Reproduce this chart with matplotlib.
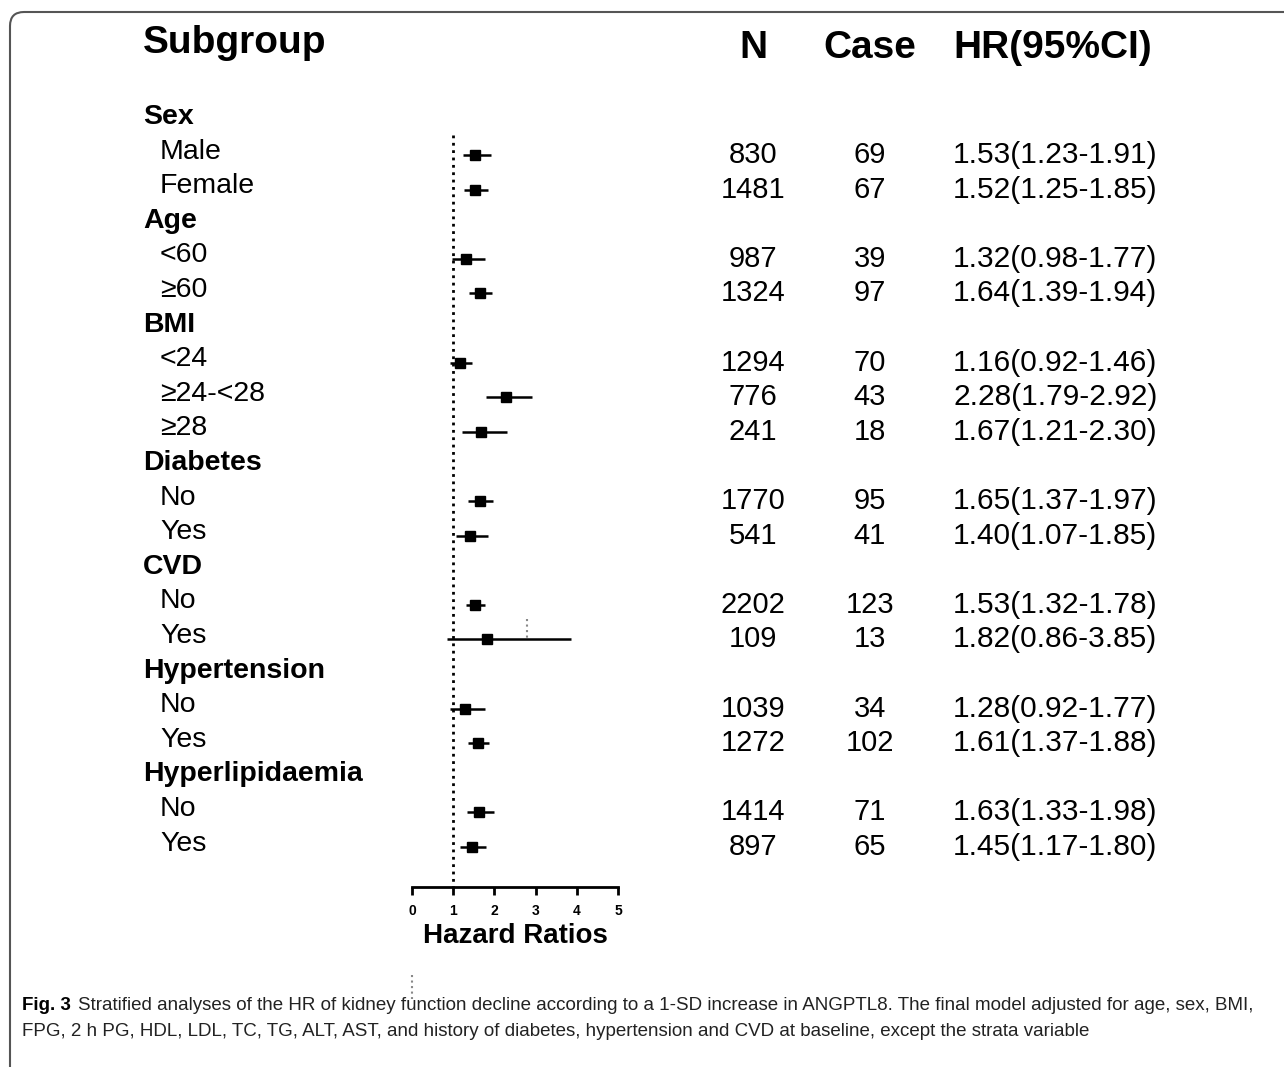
import matplotlib.pyplot as plt
from matplotlib import transforms
from matplotlib.patches import FancyBboxPatch

plt.rcParams['font.family'] = ['Liberation Sans', 'DejaVu Sans']

# data
groups = ['Sex', 'Age', 'BMI', 'Diabetes', 'CVD', 'Hypertension', 'Hyperlipidaemia']
levels = [['Male', 'Female'], ['<60', '≥60'], ['<24', '≥24-<28', '≥28'],
          ['No', 'Yes'], ['No', 'Yes'], ['No', 'Yes'], ['No', 'Yes']]
n_total = [830, 1481, 987, 1324, 1294, 776, 241, 1770, 541, 2202, 109, 1039, 1272, 1414, 897]
n_case = [69, 67, 39, 97, 70, 43, 18, 95, 41, 123, 13, 34, 102, 71, 65]
hr = [1.53, 1.52, 1.32, 1.64, 1.16, 2.28, 1.67, 1.65, 1.40, 1.53, 1.82, 1.28, 1.61, 1.63, 1.45]
ci_lo = [1.23, 1.25, 0.98, 1.39, 0.92, 1.79, 1.21, 1.37, 1.07, 1.32, 0.86, 0.92, 1.37, 1.33, 1.17]
ci_hi = [1.91, 1.85, 1.77, 1.94, 1.46, 2.92, 2.30, 1.97, 1.85, 1.78, 3.85, 1.77, 1.88, 1.98, 1.80]
xticks = [0, 1, 2, 3, 4, 5]

W, H = 1284, 1067
fig = plt.figure(figsize=(W / 100, H / 100), dpi=100)

# rounded frame, right and bottom edges run off the page
frame = FancyBboxPatch((10, -60), W + 100, H - 12 + 60,
                       boxstyle='round,pad=0,rounding_size=14',
                       transform=transforms.IdentityTransform(),
                       fc='none', ec='#555555', lw=1.5)
fig.add_artist(frame)

ax = fig.add_axes([412 / W, 1 - 887 / H, 206 / W, 787 / H])
row_px = 34.6
top_row = (100 - 117) / row_px
bot_row = (887 - 117) / row_px
ax.set_xlim(0, 5)
ax.set_ylim(bot_row, top_row)

tr = transforms.blended_transform_factory(fig.transFigure, ax.transData)

# header
ax.text(143 / W, -2.14, 'Subgroup', transform=tr, fontsize=28, fontweight='bold', va='center')
ax.text(753 / W, -2.0, 'N', transform=tr, fontsize=28, fontweight='bold', va='center', ha='center')
ax.text(870 / W, -2.0, 'Case', transform=tr, fontsize=28, fontweight='bold', va='center', ha='center')
ax.text(953 / W, -2.0, 'HR(95%CI)', transform=tr, fontsize=28, fontweight='bold', va='center')

rows = []
r = 0
for g, lv in zip(groups, levels):
    ax.text(143 / W, r, g, transform=tr, fontsize=20.5, fontweight='bold', va='center')
    r += 1
    for name in lv:
        ax.text(160 / W, r, name, transform=tr, fontsize=20.5, va='center')
        rows.append(r + 0.1)
        r += 1

for y, n, c, h, lo, hi in zip(rows, n_total, n_case, hr, ci_lo, ci_hi):
    ax.text(753 / W, y, str(n), transform=tr, fontsize=21, va='center', ha='center')
    ax.text(870 / W, y, str(c), transform=tr, fontsize=21, va='center', ha='center')
    ax.text(953 / W, y, '%.2f(%.2f-%.2f)' % (h, lo, hi), transform=tr, fontsize=21.5, va='center')

ax.hlines(rows, ci_lo, ci_hi, color='black', lw=1.8)
ax.plot(hr, rows, 's', color='black', ms=7)

# reference line at HR = 1
ax.plot([1, 1], [0.52, bot_row + 0.1], color='black', ls=':', lw=2, clip_on=False)
# small scan artefacts in the original
ax.plot([2.79, 2.79], [14.5, 15.1], color='#888888', ls=':', lw=1.5, clip_on=False)
ax.plot([0, 0], [24.8, 25.5], color='#888888', ls=':', lw=1.5, clip_on=False)

for s in ['top', 'right', 'left']:
    ax.spines[s].set_visible(False)
ax.spines['bottom'].set_linewidth(2)
ax.set_yticks([])
ax.set_xticks(xticks)
ax.tick_params(axis='x', length=6, width=2, labelsize=10, pad=6)
for t in ax.get_xticklabels():
    t.set_fontweight('bold')
ax.set_xlabel('Hazard Ratios', fontsize=20, fontweight='bold', labelpad=4)
ax.patch.set_visible(False)

# caption
fig.text(22 / W, 1 - 1005 / H, 'Fig. 3', fontsize=13.5, fontweight='bold', va='center')
fig.text(78 / W, 1 - 1005 / H,
         'Stratified analyses of the HR of kidney function decline according to a 1-SD increase in '
         'ANGPTL8. The final model adjusted for age, sex, BMI,',
         fontsize=13.5, va='center', color='#222222')
fig.text(22 / W, 1 - 1031 / H,
         'FPG, 2 h PG, HDL, LDL, TC, TG, ALT, AST, and history of diabetes, hypertension and CVD at '
         'baseline, except the strata variable',
         fontsize=13.5, va='center', color='#222222')

fig.savefig('out.png', dpi=100)
